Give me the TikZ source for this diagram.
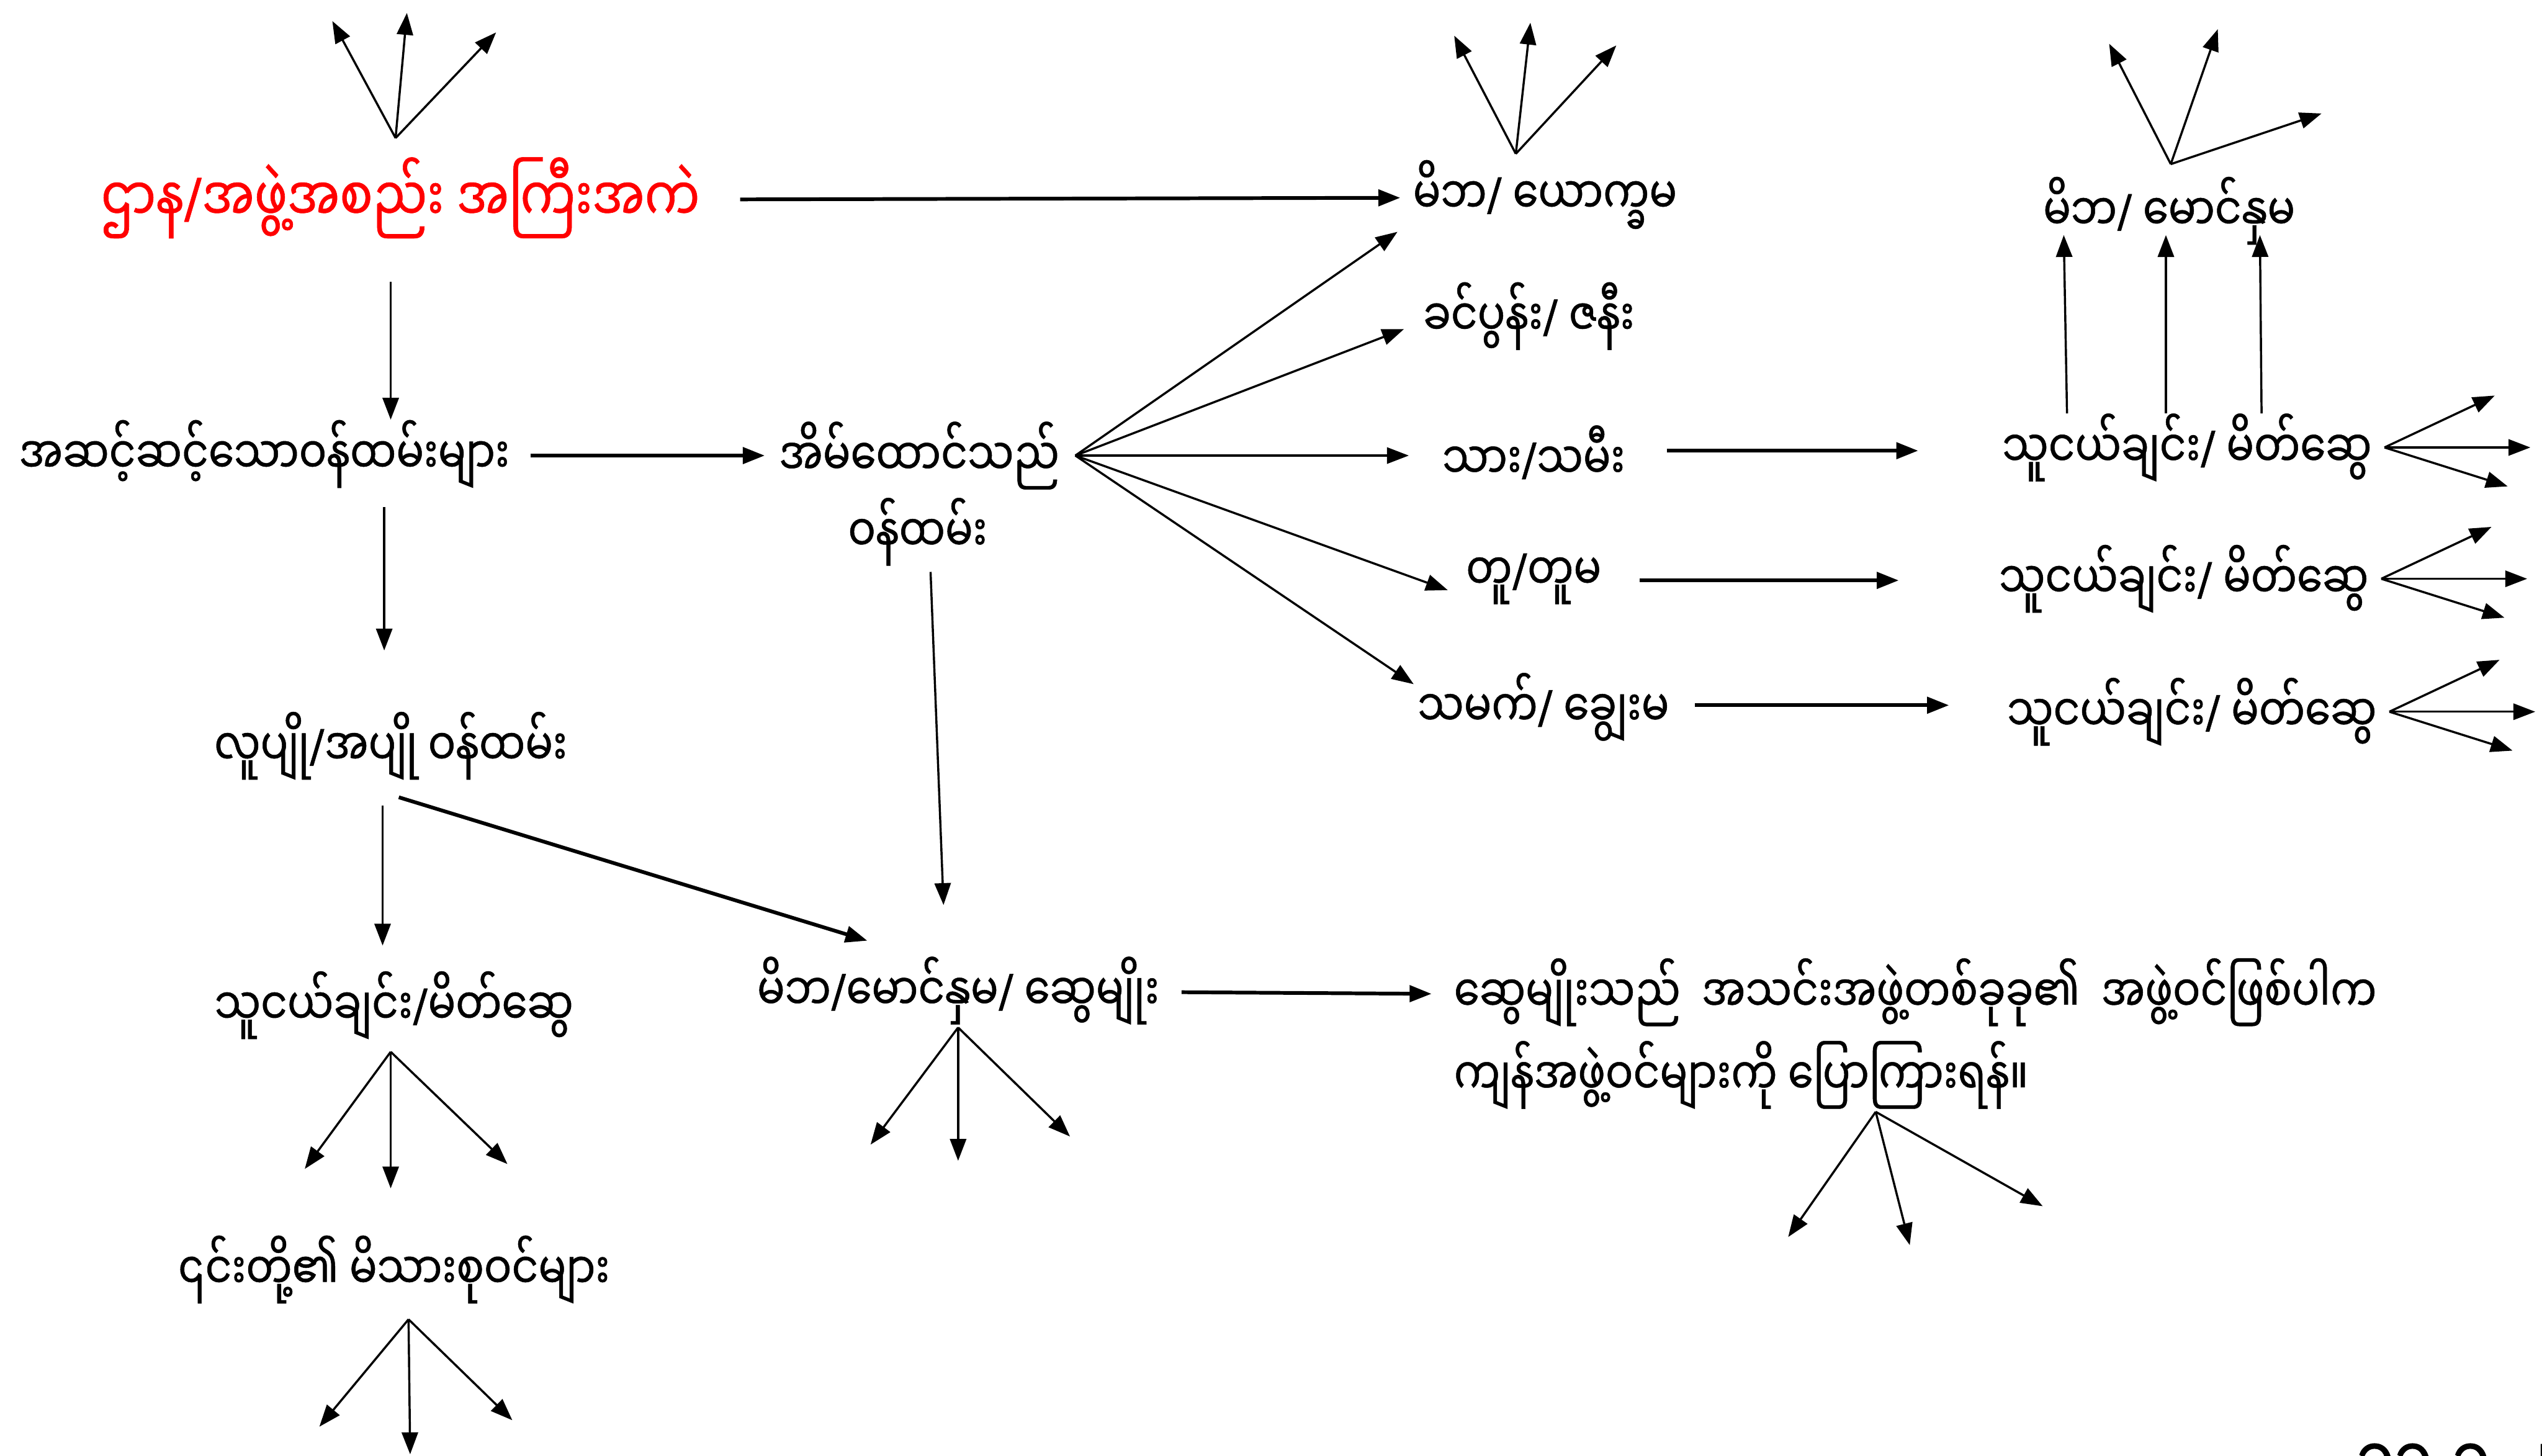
\documentclass[tikz,border=0pt]{standalone}
\usepackage{fontspec}
\setmainfont[Script=Myanmar, FakeStretch=0.8, FakeBold=0.6]{Noto Sans Myanmar UI}
\newfontfamily\latinfont[FakeStretch=0.8, FakeBold=0.6]{Noto Sans}
\newcommand\sls{{\latinfont /}}
\newcommand\hyp{{\latinfont -}}
\usetikzlibrary{arrows.meta, calc}
\tikzset{>={Triangle[length=0.27cm, width=0.2cm]}}

\begin{document}
\begin{tikzpicture}[x=0.02cm, y=-0.02cm,
    mmtext/.style={inner sep=2pt, font=\fontsize{18}{22}\selectfont},
    thinarr/.style={->, line width=0.75pt},
    thickarr/.style={->, line width=1.3pt}]

\useasboundingbox (0,0) rectangle (1568,898);

% Left column
\node[mmtext, red, font=\fontsize{21.5}{25}\selectfont] (head) at (247,122) {ဌာန\sls အဖွဲ့အစည်း အကြီးအကဲ};
\node[mmtext] (staff) at (163,280) {အဆင့်ဆင့်သောဝန်ထမ်းများ};
\node[mmtext] (single) at (241,460) {လူပျို\sls အပျို ဝန်ထမ်း};
\node[mmtext] (friends) at (243,620) {သူငယ်ချင်း\sls မိတ်ဆွေ};
\node[mmtext] (theirfam) at (243,783) {၎င်းတို့၏ မိသားစုဝင်များ};

% Middle column
\node[mmtext] (married) at (567,281) {အိမ်ထောင်သည်};
\node[mmtext] (married2) at (566,328) {ဝန်ထမ်း};
\node[mmtext] (kin) at (591,611) {မိဘ\sls မောင်နှမ\sls\ ဆွေမျိုး};
\node[mmtext, anchor=west] (note1) at (893,612) {ဆွေမျိုးသည်~ အသင်းအဖွဲ့တစ်ခုခု၏~ အဖွဲ့ဝင်ဖြစ်ပါက};
\node[mmtext, anchor=west] (note2) at (893,663) {ကျန်အဖွဲ့ဝင်များကို ပြောကြားရန်။};

% Family of the married staff
\node[mmtext] (inlaws) at (953,120) {မိဘ\sls\ ယောက္ခမ};
\node[mmtext] (spouse) at (943,195) {ခင်ပွန်း\sls\ ဇနီး};
\node[mmtext] (child) at (946,279) {သား\sls သမီး};
\node[mmtext] (nephew) at (946,357) {တူ\sls တူမ};
\node[mmtext] (childinlaw) at (952,436) {သမက်\sls\ ချွေးမ};

% Right column
\node[mmtext] (sib) at (1338,130) {မိဘ\sls\ မောင်နှမ};
\node[mmtext] (fr1) at (1349,276) {သူငယ်ချင်း\sls\ မိတ်ဆွေ};
\node[mmtext] (fr2) at (1347,357) {သူငယ်ချင်း\sls\ မိတ်ဆွေ};
\node[mmtext] (fr3) at (1352,439) {သူငယ်ချင်း\sls\ မိတ်ဆွေ};

% Date, cut by the lower edge
\begin{scope}
  \clip (0,0) rectangle (1568,898);
  \node[mmtext, font=\fontsize{27}{30}\selectfont, anchor=north west, inner sep=0pt] (date) at (1453,890) {၁၃\hyp ၃\hyp ၂၀၂၀};
\end{scope}

% Main connectors
\draw[thickarr] ($(head.east)+(21,1)$) -- ($(inlaws.west)+(-4,2)$);
\draw[thinarr] ($(head.south)+(-6,23)$) -- ($(head.south)+(-6,108)$);
\draw[thickarr] ($(staff.east)+(9,1)$) -- ($(married.west)+(-5,0)$);
\draw[thinarr] ($(staff.south)+(74,8)$) -- ($(single.north)+(-4,-34)$);
\draw[thinarr] ($(single.south)+(-5,12)$) -- ($(friends.north)+(-7,-12)$);
\draw[thickarr] ($(single.south)+(5,7)$) -- ($(kin.north)+(-56,-6)$);
\draw[thinarr] ($(married2.south)+(8,0)$) -- ($(kin.north)+(-9,-28)$);
\draw[thickarr] ($(kin.east)+(10,1)$) -- ($(note1.west)+(-10,1)$);

% Fan from the married staff
\foreach \tx/\ty [count=\i] in {862/143, 866/203, 869/281, 893/364, 872/422} {
  \coordinate (mf\i) at (\tx,\ty);
  \draw[thinarr] ($(married.east)+(6,0)$) -- (mf\i);
}

% Rows to friends
\draw[thickarr] ($(child.east)+(22,-1)$) -- ($(fr1.west)+(-48,2)$);
\draw[thickarr] ($(nephew.east)+(20,1)$) -- ($(fr2.west)+(-58,1)$);
\draw[thickarr] ($(childinlaw.east)+(12,-1)$) -- ($(fr3.west)+(-32,-4)$);

% Up to parents and siblings
\foreach \bx/\tx in {1275/1273, 1336/1336, 1395/1394} {
  \draw[thinarr] (\bx,255) -- (\tx,145);
}

% Small fans
\foreach \tx/\ty [count=\i] in {205/13, 251/8, 306/20} {
  \coordinate (hf\i) at (\tx,\ty);
  \draw[thinarr] ($(head.north)+(-3,-8)$) -- (hf\i);
}
\foreach \tx/\ty [count=\i] in {897/22, 944/14, 997/28} {
  \coordinate (if\i) at (\tx,\ty);
  \draw[thinarr] ($(inlaws.north)+(-18,0)$) -- (if\i);
}
\foreach \tx/\ty [count=\i] in {1301/27, 1368/18, 1432/70} {
  \coordinate (sf\i) at (\tx,\ty);
  \draw[thinarr] ($(sib.north)+(1,-4)$) -- (sf\i);
}
\foreach \tx/\ty [count=\i] in {188/721, 241/733, 313/718} {
  \coordinate (ff\i) at (\tx,\ty);
  \draw[thinarr] ($(friends.south)+(-2,4)$) -- (ff\i);
}
\foreach \tx/\ty [count=\i] in {197/880, 253/897, 316/876} {
  \coordinate (tf\i) at (\tx,\ty);
  \draw[thinarr] ($(theirfam.south)+(9,6)$) -- (tf\i);
}
\foreach \tx/\ty [count=\i] in {537/706, 591/716, 660/701} {
  \coordinate (kf\i) at (\tx,\ty);
  \draw[thinarr] ($(kin.south)+(0,-2)$) -- (kf\i);
}
\foreach \tx/\ty [count=\i] in {1103/763, 1178/768, 1260/744} {
  \coordinate (nf\i) at (\tx,\ty);
  \draw[thinarr] ($(note2.south west)+(264,-2)$) -- (nf\i);
}
\foreach \r in {fr1, fr2, fr3} {
  \foreach \tx/\ty in {72/-32, 94/0, 80/24} {
    \draw[thinarr] ($(\r.east)+(4,0)$) -- ($(\r.east)+(\tx,\ty)$);
  }
}

\end{tikzpicture}
\end{document}
